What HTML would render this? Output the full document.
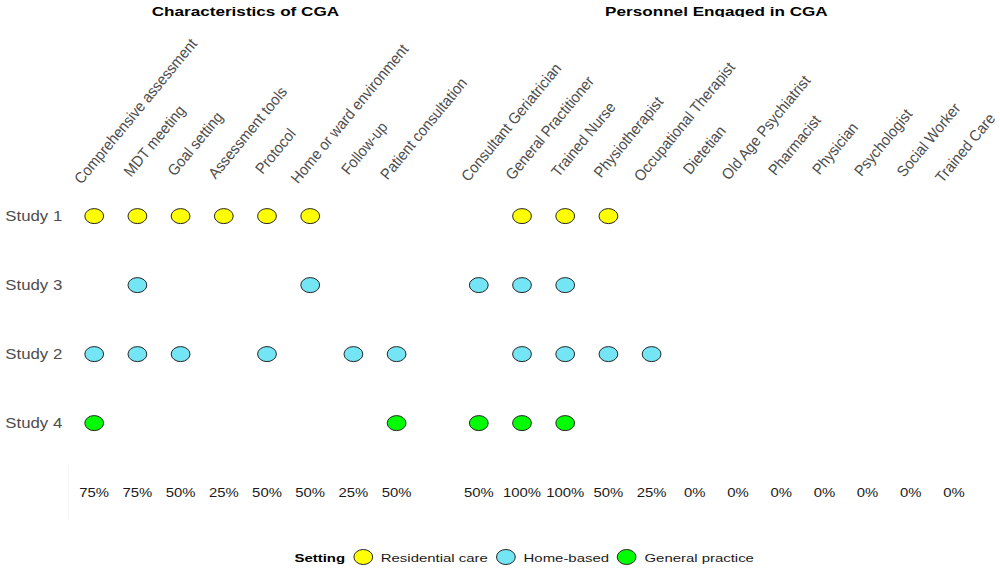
<!DOCTYPE html><html><head><meta charset="utf-8"><style>html,body{margin:0;padding:0;background:#fff;overflow:hidden}svg{display:block}text{font-family:"Liberation Sans",sans-serif}</style></head><body>
<svg width="1000" height="571" viewBox="0 0 1000 571">
<defs><clipPath id="tc"><rect x="0" y="0" width="1000" height="17.0"/></clipPath></defs>
<rect width="1000" height="571" fill="#fff"/>
<line x1="68.5" y1="465" x2="68.5" y2="520" stroke="#f7f7f7" stroke-width="1"/>
<g clip-path="url(#tc)">
<text transform="translate(245.4,16.4) scale(1.26,1)" font-size="13.6" fill="#000" font-weight="bold" text-anchor="middle">Characteristics of CGA</text>
<text transform="translate(716.4,16.4) scale(1.26,1)" font-size="13.6" fill="#000" font-weight="bold" text-anchor="middle">Personnel Engaged in CGA</text>
</g>
<text transform="translate(93.2,171) rotate(-50.5) scale(0.935,1)" x="-19.56" font-size="15.5" fill="#4d4d4d">Comprehensive assessment</text>
<text transform="translate(136.4,171) rotate(-50.5) scale(0.935,1)" x="-9.27" font-size="15.5" fill="#4d4d4d">MDT meeting</text>
<text transform="translate(179.6,171) rotate(-50.5) scale(0.935,1)" x="-8.27" font-size="15.5" fill="#4d4d4d">Goal setting</text>
<text transform="translate(222.8,171) rotate(-50.5) scale(0.935,1)" x="-12.15" font-size="15.5" fill="#4d4d4d">Assessment tools</text>
<text transform="translate(266,171) rotate(-50.5) scale(0.935,1)" x="-5.69" font-size="15.5" fill="#4d4d4d">Protocol</text>
<text transform="translate(309.2,171) rotate(-50.5) scale(0.935,1)" x="-18.69" font-size="15.5" fill="#4d4d4d">Home or ward environment</text>
<text transform="translate(352.4,171) rotate(-50.5) scale(0.935,1)" x="-6.72" font-size="15.5" fill="#4d4d4d">Follow-up</text>
<text transform="translate(395.6,171) rotate(-50.5) scale(0.935,1)" x="-13.53" font-size="15.5" fill="#4d4d4d">Patient consultation</text>
<text transform="translate(477.8,171) rotate(-50.5) scale(0.935,1)" x="-15.77" font-size="15.5" fill="#4d4d4d">Consultant Geriatrician</text>
<text transform="translate(521,171) rotate(-50.5) scale(0.935,1)" x="-13.78" font-size="15.5" fill="#4d4d4d">General Practitioner</text>
<text transform="translate(564.2,171) rotate(-50.5) scale(0.935,1)" x="-9.76" font-size="15.5" fill="#4d4d4d">Trained Nurse</text>
<text transform="translate(607.4,171) rotate(-50.5) scale(0.935,1)" x="-10.6" font-size="15.5" fill="#4d4d4d">Physiotherapist</text>
<text transform="translate(650.6,171) rotate(-50.5) scale(0.935,1)" x="-15.91" font-size="15.5" fill="#4d4d4d">Occupational Therapist</text>
<text transform="translate(693.8,171) rotate(-50.5) scale(0.935,1)" x="-6.12" font-size="15.5" fill="#4d4d4d">Dietetian</text>
<text transform="translate(737,171) rotate(-50.5) scale(0.935,1)" x="-13.87" font-size="15.5" fill="#4d4d4d">Old Age Psychiatrist</text>
<text transform="translate(780.2,171) rotate(-50.5) scale(0.935,1)" x="-7.75" font-size="15.5" fill="#4d4d4d">Pharmacist</text>
<text transform="translate(823.4,171) rotate(-50.5) scale(0.935,1)" x="-6.63" font-size="15.5" fill="#4d4d4d">Physician</text>
<text transform="translate(866.6,171) rotate(-50.5) scale(0.935,1)" x="-8.7" font-size="15.5" fill="#4d4d4d">Psychologist</text>
<text transform="translate(909.8,171) rotate(-50.5) scale(0.935,1)" x="-9.62" font-size="15.5" fill="#4d4d4d">Social Worker</text>
<text transform="translate(953,171) rotate(-50.5) scale(0.935,1)" x="-17.52" font-size="15.5" fill="#4d4d4d">Trained Care</text>
<text transform="translate(5.3,221) scale(1.2,1)" font-size="14.0" fill="#4d4d4d">Study 1</text>
<ellipse cx="94.2" cy="216.1" rx="9.4" ry="7.5" fill="#ffff00" stroke="#262626" stroke-width="1.0"/>
<ellipse cx="137.4" cy="216.1" rx="9.4" ry="7.5" fill="#ffff00" stroke="#262626" stroke-width="1.0"/>
<ellipse cx="180.6" cy="216.1" rx="9.4" ry="7.5" fill="#ffff00" stroke="#262626" stroke-width="1.0"/>
<ellipse cx="223.8" cy="216.1" rx="9.4" ry="7.5" fill="#ffff00" stroke="#262626" stroke-width="1.0"/>
<ellipse cx="267" cy="216.1" rx="9.4" ry="7.5" fill="#ffff00" stroke="#262626" stroke-width="1.0"/>
<ellipse cx="310.2" cy="216.1" rx="9.4" ry="7.5" fill="#ffff00" stroke="#262626" stroke-width="1.0"/>
<ellipse cx="522" cy="216.1" rx="9.4" ry="7.5" fill="#ffff00" stroke="#262626" stroke-width="1.0"/>
<ellipse cx="565.2" cy="216.1" rx="9.4" ry="7.5" fill="#ffff00" stroke="#262626" stroke-width="1.0"/>
<ellipse cx="608.4" cy="216.1" rx="9.4" ry="7.5" fill="#ffff00" stroke="#262626" stroke-width="1.0"/>
<text transform="translate(5.3,290) scale(1.2,1)" font-size="14.0" fill="#4d4d4d">Study 3</text>
<ellipse cx="137.4" cy="285.1" rx="9.4" ry="7.5" fill="#73e5f5" stroke="#262626" stroke-width="1.0"/>
<ellipse cx="310.2" cy="285.1" rx="9.4" ry="7.5" fill="#73e5f5" stroke="#262626" stroke-width="1.0"/>
<ellipse cx="478.8" cy="285.1" rx="9.4" ry="7.5" fill="#73e5f5" stroke="#262626" stroke-width="1.0"/>
<ellipse cx="522" cy="285.1" rx="9.4" ry="7.5" fill="#73e5f5" stroke="#262626" stroke-width="1.0"/>
<ellipse cx="565.2" cy="285.1" rx="9.4" ry="7.5" fill="#73e5f5" stroke="#262626" stroke-width="1.0"/>
<text transform="translate(5.3,359) scale(1.2,1)" font-size="14.0" fill="#4d4d4d">Study 2</text>
<ellipse cx="94.2" cy="354.1" rx="9.4" ry="7.5" fill="#73e5f5" stroke="#262626" stroke-width="1.0"/>
<ellipse cx="137.4" cy="354.1" rx="9.4" ry="7.5" fill="#73e5f5" stroke="#262626" stroke-width="1.0"/>
<ellipse cx="180.6" cy="354.1" rx="9.4" ry="7.5" fill="#73e5f5" stroke="#262626" stroke-width="1.0"/>
<ellipse cx="267" cy="354.1" rx="9.4" ry="7.5" fill="#73e5f5" stroke="#262626" stroke-width="1.0"/>
<ellipse cx="353.4" cy="354.1" rx="9.4" ry="7.5" fill="#73e5f5" stroke="#262626" stroke-width="1.0"/>
<ellipse cx="396.6" cy="354.1" rx="9.4" ry="7.5" fill="#73e5f5" stroke="#262626" stroke-width="1.0"/>
<ellipse cx="522" cy="354.1" rx="9.4" ry="7.5" fill="#73e5f5" stroke="#262626" stroke-width="1.0"/>
<ellipse cx="565.2" cy="354.1" rx="9.4" ry="7.5" fill="#73e5f5" stroke="#262626" stroke-width="1.0"/>
<ellipse cx="608.4" cy="354.1" rx="9.4" ry="7.5" fill="#73e5f5" stroke="#262626" stroke-width="1.0"/>
<ellipse cx="651.6" cy="354.1" rx="9.4" ry="7.5" fill="#73e5f5" stroke="#262626" stroke-width="1.0"/>
<text transform="translate(5.3,428) scale(1.2,1)" font-size="14.0" fill="#4d4d4d">Study 4</text>
<ellipse cx="94.2" cy="423.1" rx="9.4" ry="7.5" fill="#00ff00" stroke="#262626" stroke-width="1.0"/>
<ellipse cx="396.6" cy="423.1" rx="9.4" ry="7.5" fill="#00ff00" stroke="#262626" stroke-width="1.0"/>
<ellipse cx="478.8" cy="423.1" rx="9.4" ry="7.5" fill="#00ff00" stroke="#262626" stroke-width="1.0"/>
<ellipse cx="522" cy="423.1" rx="9.4" ry="7.5" fill="#00ff00" stroke="#262626" stroke-width="1.0"/>
<ellipse cx="565.2" cy="423.1" rx="9.4" ry="7.5" fill="#00ff00" stroke="#262626" stroke-width="1.0"/>
<text transform="translate(94.2,496.8) scale(1.22,1)" font-size="12.2" fill="#1a1a1a" text-anchor="middle">75%</text>
<text transform="translate(137.4,496.8) scale(1.22,1)" font-size="12.2" fill="#1a1a1a" text-anchor="middle">75%</text>
<text transform="translate(180.6,496.8) scale(1.22,1)" font-size="12.2" fill="#1a1a1a" text-anchor="middle">50%</text>
<text transform="translate(223.8,496.8) scale(1.22,1)" font-size="12.2" fill="#1a1a1a" text-anchor="middle">25%</text>
<text transform="translate(267,496.8) scale(1.22,1)" font-size="12.2" fill="#1a1a1a" text-anchor="middle">50%</text>
<text transform="translate(310.2,496.8) scale(1.22,1)" font-size="12.2" fill="#1a1a1a" text-anchor="middle">50%</text>
<text transform="translate(353.4,496.8) scale(1.22,1)" font-size="12.2" fill="#1a1a1a" text-anchor="middle">25%</text>
<text transform="translate(396.6,496.8) scale(1.22,1)" font-size="12.2" fill="#1a1a1a" text-anchor="middle">50%</text>
<text transform="translate(478.8,496.8) scale(1.22,1)" font-size="12.2" fill="#1a1a1a" text-anchor="middle">50%</text>
<text transform="translate(522,496.8) scale(1.22,1)" font-size="12.2" fill="#1a1a1a" text-anchor="middle">100%</text>
<text transform="translate(565.2,496.8) scale(1.22,1)" font-size="12.2" fill="#1a1a1a" text-anchor="middle">100%</text>
<text transform="translate(608.4,496.8) scale(1.22,1)" font-size="12.2" fill="#1a1a1a" text-anchor="middle">50%</text>
<text transform="translate(651.6,496.8) scale(1.22,1)" font-size="12.2" fill="#1a1a1a" text-anchor="middle">25%</text>
<text transform="translate(694.8,496.8) scale(1.22,1)" font-size="12.2" fill="#1a1a1a" text-anchor="middle">0%</text>
<text transform="translate(738,496.8) scale(1.22,1)" font-size="12.2" fill="#1a1a1a" text-anchor="middle">0%</text>
<text transform="translate(781.2,496.8) scale(1.22,1)" font-size="12.2" fill="#1a1a1a" text-anchor="middle">0%</text>
<text transform="translate(824.4,496.8) scale(1.22,1)" font-size="12.2" fill="#1a1a1a" text-anchor="middle">0%</text>
<text transform="translate(867.6,496.8) scale(1.22,1)" font-size="12.2" fill="#1a1a1a" text-anchor="middle">0%</text>
<text transform="translate(910.8,496.8) scale(1.22,1)" font-size="12.2" fill="#1a1a1a" text-anchor="middle">0%</text>
<text transform="translate(954,496.8) scale(1.22,1)" font-size="12.2" fill="#1a1a1a" text-anchor="middle">0%</text>
<text transform="translate(294.5,561.7) scale(1.31,1)" font-size="11.4" fill="#000" font-weight="bold">Setting</text>
<ellipse cx="363.3" cy="557.0" rx="9.4" ry="7.5" fill="#ffff00" stroke="#262626" stroke-width="1.0"/>
<text transform="translate(380.8,561.7) scale(1.31,1)" font-size="11.4" fill="#1a1a1a">Residential care</text>
<ellipse cx="505.9" cy="557.0" rx="9.4" ry="7.5" fill="#73e5f5" stroke="#262626" stroke-width="1.0"/>
<text transform="translate(523.6,561.7) scale(1.31,1)" font-size="11.4" fill="#1a1a1a">Home-based</text>
<ellipse cx="626.6" cy="557.0" rx="9.4" ry="7.5" fill="#00ff00" stroke="#262626" stroke-width="1.0"/>
<text transform="translate(644.5,561.7) scale(1.31,1)" font-size="11.4" fill="#1a1a1a">General practice</text>
</svg></body></html>
